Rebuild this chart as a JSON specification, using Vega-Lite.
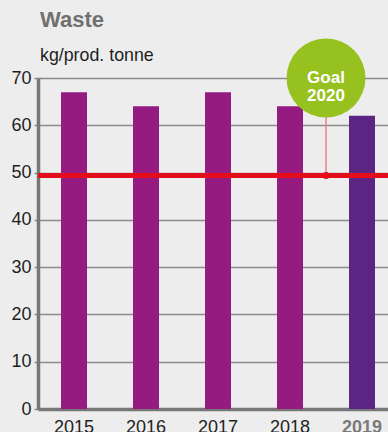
{
  "$schema": "https://vega.github.io/schema/vega-lite/v6.json",
  "autosize": {"type": "none"},
  "width": 350,
  "height": 331,
  "padding": {"left": 38, "top": 78, "right": 0, "bottom": 23},
  "background": "#ededed",
  "config": {"view": {"stroke": null}, "font": "Liberation Sans"},
  "title": {
    "text": "Waste",
    "subtitle": "kg/prod. tonne",
    "anchor": "start",
    "frame": "group",
    "orient": "top",
    "dx": 2,
    "offset": -27.5,
    "fontSize": 22,
    "fontWeight": "bold",
    "color": "#707070",
    "subtitleFontSize": 17.8,
    "subtitleFontWeight": "normal",
    "subtitleColor": "#1e1e1e",
    "subtitlePadding": 15
  },
  "datasets": {
    "waste": [
      {"year": "2015", "kg": 67},
      {"year": "2016", "kg": 64},
      {"year": "2017", "kg": 67},
      {"year": "2018", "kg": 64},
      {"year": "2019", "kg": 62}
    ],
    "goal": [
      {"label": "Goal\n2020", "target": 49.4, "after": "2018", "badge": 70}
    ]
  },
  "layer": [
    {
      "data": {"name": "waste"},
      "mark": {"type": "bar"},
      "encoding": {
        "x": {
          "field": "year",
          "type": "ordinal",
          "scale": {"type": "band", "paddingInner": 0.639, "paddingOuter": 0.25, "align": 0.639},
          "axis": {
            "title": null,
            "labelAngle": 0,
            "labelFontSize": 18,
            "labelPadding": 9,
            "labelColor": {"condition": {"test": "datum.value === '2019'", "value": "#7a7a7a"}, "value": "#1e1e1e"},
            "labelFontWeight": {"condition": {"test": "datum.value === '2019'", "value": "bold"}, "value": "normal"},
            "ticks": false,
            "domainColor": "#777777",
            "domainWidth": 3.5,
            "grid": false
          }
        },
        "y": {
          "field": "kg",
          "type": "quantitative",
          "scale": {"domain": [0, 70], "nice": false},
          "axis": {
            "title": null,
            "values": [0, 10, 20, 30, 40, 50, 60, 70],
            "grid": true,
            "gridColor": "#8a8a8a",
            "gridWidth": 1.5,
            "domainColor": "#777777",
            "domainWidth": 3.5,
            "tickColor": "#8a8a8a",
            "tickSize": 4,
            "tickWidth": 1.5,
            "labelFontSize": 18,
            "labelColor": "#1e1e1e",
            "labelPadding": 3
          }
        },
        "color": {
          "condition": {"test": "datum.year === '2019'", "value": "#5c2583"},
          "value": "#951b81"
        }
      }
    },
    {
      "data": {"name": "goal"},
      "mark": {"type": "rule", "color": "#e30d1c", "strokeWidth": 5},
      "encoding": {
        "y": {"field": "target", "type": "quantitative"}
      }
    },
    {
      "data": {"name": "goal"},
      "mark": {"type": "rule", "color": "#ef7d88", "strokeWidth": 1.5},
      "encoding": {
        "x": {"field": "after", "type": "ordinal", "bandPosition": 1.885},
        "y": {"field": "target", "type": "quantitative"},
        "y2": {"field": "badge"}
      }
    },
    {
      "data": {"name": "goal"},
      "mark": {"type": "point", "filled": true, "opacity": 1, "color": "#e30d1c", "size": 49},
      "encoding": {
        "x": {"field": "after", "type": "ordinal", "bandPosition": 1.885},
        "y": {"field": "target", "type": "quantitative"}
      }
    },
    {
      "data": {"name": "goal"},
      "mark": {"type": "point", "shape": "circle", "filled": true, "opacity": 1, "color": "#96c11f", "size": 6241},
      "encoding": {
        "x": {"field": "after", "type": "ordinal", "bandPosition": 1.885},
        "y": {"field": "badge", "type": "quantitative"}
      }
    },
    {
      "data": {"name": "goal"},
      "mark": {"type": "text", "color": "#ffffff", "fontSize": 17, "fontWeight": "bold", "align": "center", "baseline": "middle", "lineBreak": "\n", "lineHeight": 17.7},
      "encoding": {
        "x": {"field": "after", "type": "ordinal", "bandPosition": 1.885},
        "y": {"field": "badge", "type": "quantitative"},
        "text": {"field": "label"}
      }
    }
  ]
}
